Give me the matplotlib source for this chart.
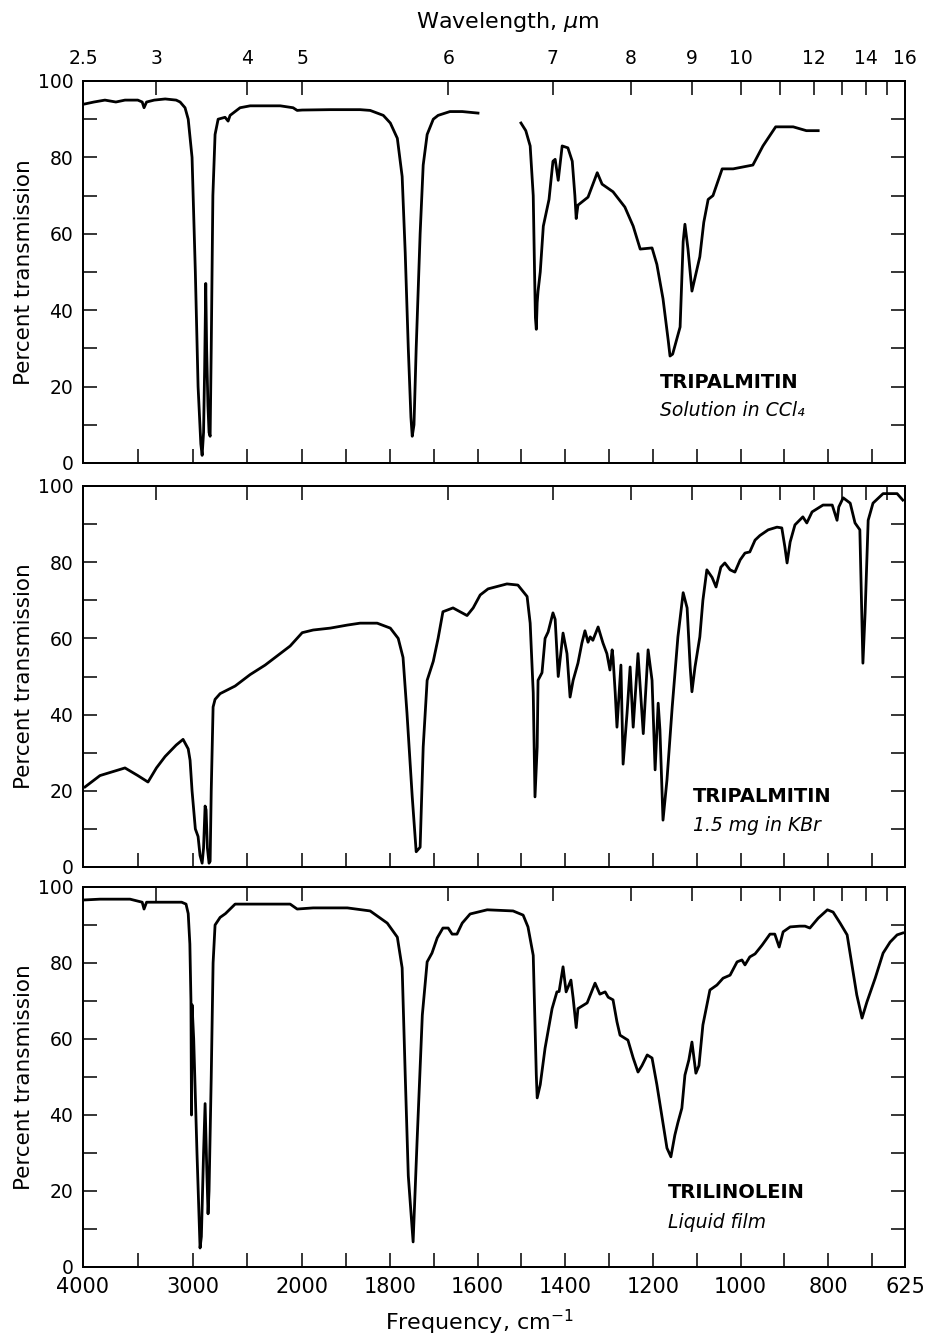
import numpy as np
import matplotlib
matplotlib.use("Agg")
import matplotlib.pyplot as plt

plt.rcParams['font.family'] = ['DejaVu Sans']

# ---------------- data ----------------
# Tripalmitin, solution in CCl4 (two recorded segments; solvent window omitted)
tp_ccl4_a_wn = [3982, 3900, 3800, 3700, 3617, 3500, 3460, 3443, 3420, 3350, 3250, 3150, 3114,
                3069, 3040, 3005, 2975, 2950, 2925, 2913, 2900, 2890, 2880, 2872, 2860, 2850,
                2840, 2830, 2815, 2795, 2767, 2704, 2676, 2658, 2567, 2475, 2338, 2200, 2083,
                2046, 2000, 1936, 1868, 1845, 1815, 1799, 1783, 1772, 1765, 1758, 1752, 1749,
                1745, 1740, 1731, 1724, 1715, 1701, 1690, 1663, 1635, 1599]
tp_ccl4_a_t = [94, 94.5, 95, 94.5, 95, 95, 94.5, 93, 94.5, 95, 95.3, 95, 94.5,
               93, 90, 80, 50, 20, 5, 2, 8, 25, 47, 30, 15, 8,
               7, 30, 70, 86, 90, 90.5, 89.5, 91, 93, 93.5, 93.5, 93.5, 93,
               92.3, 92.4, 92.5, 92.5, 92.3, 91, 89, 85, 75, 55, 30, 12, 7,
               10, 30, 60, 78, 86, 90, 91, 92, 92, 91.6]
tp_ccl4_b_wn = [1501, 1490, 1480, 1473, 1470, 1468, 1466, 1464, 1462, 1457, 1450, 1437, 1428,
                1423, 1416, 1407, 1394, 1384, 1378, 1375, 1371, 1348, 1327, 1316, 1291, 1264,
                1245, 1229, 1202, 1191, 1177, 1165, 1161, 1155, 1138, 1131, 1127, 1120, 1111,
                1099, 1093, 1084, 1074, 1063, 1042, 1017, 972, 949, 920, 880, 850, 823]
tp_ccl4_b_t = [89, 87, 83, 70, 50, 38, 35, 42, 45, 50, 62, 69, 79,
               79.5, 74, 83, 82.5, 79, 70, 64, 67.5, 69.6, 76, 73, 71, 67,
               62, 56, 56.3, 52, 43, 32, 28, 28.5, 35.6, 58, 62.5, 56, 45,
               51, 54, 63, 69, 70, 77, 77, 78, 83, 88, 88, 87, 87]

# Tripalmitin, 1.5 mg in KBr
tp_kbr_wn = [3982, 3845, 3617, 3500, 3407, 3330, 3251, 3150, 3087, 3040, 3023, 3005, 2975,
             2950, 2932, 2913, 2900, 2886, 2877, 2865, 2850, 2840, 2830, 2813, 2795, 2749,
             2612, 2475, 2338, 2201, 2110, 2000, 1975, 1936, 1897, 1868, 1829, 1799, 1781,
             1770, 1761, 1749, 1740, 1731, 1724, 1715, 1701, 1690, 1679, 1656, 1635, 1624,
             1610, 1594, 1576, 1533, 1508, 1487, 1480, 1473, 1471, 1469, 1464, 1462, 1453,
             1446, 1439, 1428, 1423, 1416, 1405, 1396, 1389, 1382, 1371, 1362, 1355, 1348,
             1343, 1337, 1325, 1314, 1305, 1298, 1293, 1291, 1286, 1282, 1273, 1268, 1259,
             1252, 1245, 1234, 1222, 1211, 1202, 1195, 1188, 1184, 1177, 1168, 1156, 1143,
             1131, 1122, 1115, 1111, 1104, 1093, 1086, 1077, 1065, 1056, 1045, 1036, 1024,
             1013, 1001, 990, 979, 967, 956, 937, 917, 906, 899, 894, 887, 876, 858, 849,
             837, 812, 791, 780, 776, 766, 750, 739, 728, 721, 716, 709, 698, 675, 643, 630]
tp_kbr_t = [21, 24, 26, 24, 22.3, 26, 29, 32, 33.5, 31, 28, 20, 10,
            8, 3, 1, 5, 16, 15, 5, 1, 1.5, 20, 42, 44, 45.5,
            47.5, 50.5, 53, 56, 58, 61.5, 62.2, 62.7, 63.5, 64, 64, 62.7, 60,
            55, 40.4, 18.4, 4, 5.2, 31.5, 49, 54, 60, 67, 68, 66.7, 66,
            68, 71.4, 73, 74.3, 74, 71, 64, 45.7, 31.5, 18.4, 31.5, 49, 51,
            60, 61.7, 66.7, 65, 50, 61.4, 56, 44.6, 49, 53.5, 58.8, 62, 59,
            60.4, 59.5, 63, 58.8, 56, 51.7, 57, 55, 45.7, 36.7, 53, 27, 40.4,
            52.5, 36.7, 56, 35, 57, 49, 25.5, 43, 36, 12.3, 22.8, 42, 60.4,
            72, 68, 52.5, 46, 52.5, 60.4, 70, 78, 76, 73.5, 78.7, 79.8, 78,
            77.4, 80.6, 82.4, 82.7, 85.8, 87, 88.5, 89.2, 89, 84, 79.8, 85.3, 89.8, 91.9, 90.3,
            93.2, 95, 95, 91, 94.5, 96.9, 95.5, 90.3, 88.5, 53.5, 66.7, 91, 95.5, 98, 98, 96.3]

# Trilinolein, liquid film
tl_wn = [3982, 3845, 3571, 3460, 3443, 3420, 3300, 3100, 3060, 3040, 3025, 3015, 3010,
         3005, 2990, 2960, 2932, 2920, 2900, 2886, 2870, 2859, 2850, 2830, 2813, 2795,
         2749, 2700, 2612, 2475, 2338, 2201, 2110, 2046, 1975, 1897, 1845, 1806, 1783,
         1772, 1765, 1758, 1747, 1738, 1726, 1715, 1704, 1692, 1679, 1667, 1658, 1647,
         1635, 1617, 1578, 1519, 1496, 1485, 1473, 1466, 1464, 1457, 1446, 1430, 1419,
         1414, 1405, 1398, 1387, 1382, 1375, 1371, 1350, 1332, 1321, 1309, 1302, 1291,
         1282, 1275, 1257, 1245, 1234, 1225, 1213, 1202, 1191, 1179, 1168, 1159, 1150,
         1143, 1134, 1127, 1118, 1111, 1102, 1095, 1086, 1070, 1054, 1040, 1024, 1008,
         997, 990, 979, 967, 951, 933, 922, 912, 903, 887, 865, 853, 842, 823, 802, 789,
         773, 757, 746, 735, 723, 712, 693, 675, 659, 643, 630]
tl_t = [96.6, 96.8, 96.8, 96, 94.2, 96, 96, 96, 95.5, 93, 85, 70, 40,
        69, 60, 30, 5, 8, 30, 43, 25, 14, 20, 50, 80, 90,
        92, 93, 95.5, 95.5, 95.5, 95.5, 95.5, 94.2, 94.5, 94.5, 93.7, 90.5, 86.8,
        78.7, 50.5, 24, 6.6, 33, 66.3, 80.3, 82.6, 86.6, 89.2, 89.2, 87.6, 87.6,
        90.5, 92.9, 94, 93.7, 92.6, 89.5, 82, 50.5, 44.5, 48, 57.6, 68, 72.4,
        72.5, 79, 72.4, 75.5, 70.8, 63, 68, 69.5, 74.7, 71.8, 72.4, 71, 70.3,
        64.5, 61, 59.7, 55, 51.3, 53, 55.8, 55, 48, 39.2, 31.3, 29, 34.7,
        38, 41.8, 50.5, 54.5, 59.2, 51, 53, 63.7, 72.9, 74.2, 76, 76.8, 80.3,
        80.8, 79.5, 81.6, 82.4, 84.7, 87.6, 87.6, 84.2, 88.2, 89.5, 89.7, 89.7, 89.2, 91.8, 94, 93.4,
        90.5, 87.4, 79.5, 71.6, 65.5, 69.7, 76, 82.6, 85.5, 87.4, 87.9]

freq_ticks = [4000, 3500, 3000, 2500, 2000, 1900, 1800, 1700, 1600, 1500, 1400, 1300,
              1200, 1100, 1000, 900, 800, 700, 625]
freq_labels = ['4000', '', '3000', '', '2000', '', '1800', '', '1600', '', '1400', '',
               '1200', '', '1000', '', '800', '', '625']
wl_ticks = [2.5, 3, 4, 5, 6, 7, 8, 9, 10, 11, 12, 13, 14, 15, 16]
wl_labels = ['2.5', '3', '4', '5', '6', '7', '8', '9', '10', '', '12', '', '14', '', '16']
y_major = [0, 20, 40, 60, 80, 100]
y_minor = [10, 30, 50, 70, 90]

titles = [("TRIPALMITIN", "Solution in CCl\u2084"),
          ("TRIPALMITIN", "1.5 mg in KBr"),
          ("TRILINOLEIN", "Liquid film")]


# piecewise-linear IR chart scale: 4x expansion below 2000 cm-1
def fwd(w):
    w = np.asarray(w, dtype=float)
    return np.where(w >= 2000, w, 2000 + (w - 2000) * 4.0)


def inv(v):
    v = np.asarray(v, dtype=float)
    return np.where(v >= 2000, v, 2000 + (v - 2000) / 4.0)


fig = plt.figure(figsize=(9.34, 13.39), dpi=100)
W, H = 934, 1339
left, right = 83, 905
panels_px = [(81, 463), (486, 867), (887, 1267)]

LW_SPINE = 1.4
TICK_LEN = 10

axes = []
for i, (top, bot) in enumerate(panels_px):
    ax = fig.add_axes([left / W, 1 - bot / H, (right - left) / W, (bot - top) / H])
    ax.set_xscale('function', functions=(fwd, inv))
    ax.set_xlim(4000, 625)
    ax.set_ylim(0, 100)
    ax.set_xticks(freq_ticks)
    if i == 2:
        ax.set_xticklabels(freq_labels, fontsize=15)
    else:
        ax.set_xticklabels([''] * len(freq_ticks))
    ax.xaxis.set_minor_locator(matplotlib.ticker.NullLocator())
    ax.set_yticks(y_major)
    ax.set_yticklabels([str(v) for v in y_major], fontsize=13.5)
    ax.set_yticks(y_minor, minor=True)
    ax.tick_params(axis='x', which='both', direction='in', length=TICK_LEN, width=1.1,
                   top=False, bottom=True, pad=7)
    ax.tick_params(axis='y', which='both', direction='in', length=TICK_LEN, width=1.1,
                   left=True, right=True, pad=7)
    for s in ax.spines.values():
        s.set_linewidth(LW_SPINE)
    ax.set_ylabel("Percent transmission", fontsize=15.5)
    ax.yaxis.set_label_coords(-0.060, 0.5)

    axt = ax.twiny()
    axt.set_xscale('function', functions=(fwd, inv))
    axt.set_xlim(4000, 625)
    axt.set_xticks([10000.0 / w for w in wl_ticks])
    if i == 0:
        axt.set_xticklabels(wl_labels, fontsize=13.5)
    else:
        axt.set_xticklabels([''] * len(wl_ticks))
    axt.xaxis.set_minor_locator(matplotlib.ticker.NullLocator())
    axt.tick_params(axis='x', direction='in', length=TICK_LEN, width=1.1, pad=9)
    for s in axt.spines.values():
        s.set_linewidth(LW_SPINE)
    axes.append(ax)

line_kw = dict(color='black', lw=2.0, solid_joinstyle='round')
axes[0].plot(tp_ccl4_a_wn, tp_ccl4_a_t, **line_kw)
axes[0].plot(tp_ccl4_b_wn, tp_ccl4_b_t, **line_kw)
axes[1].plot(tp_kbr_wn, tp_kbr_t, **line_kw)
axes[2].plot(tl_wn, tl_t, **line_kw)

# sample annotations
ann_pos = [(660, 383, 410), (693, 797, 825), (668, 1193, 1222)]
for i, ((name, desc), (xp, y1, y2)) in enumerate(zip(titles, ann_pos)):
    fig.text(xp / W, 1 - y1 / H, name, fontsize=14, fontweight='bold',
             ha='left', va='center')
    fig.text(xp / W, 1 - y2 / H, desc, fontsize=13.5, style='italic',
             ha='left', va='center')

fig.text(508 / W, 1 - 22 / H, "Wavelength, $\\mu$m", fontsize=16, ha='center', va='center')
fig.text(479 / W, 1 - 1322 / H, "Frequency, cm$^{-1}$", fontsize=16, ha='center', va='center')

fig.savefig("out.png", dpi=100, facecolor='white')
